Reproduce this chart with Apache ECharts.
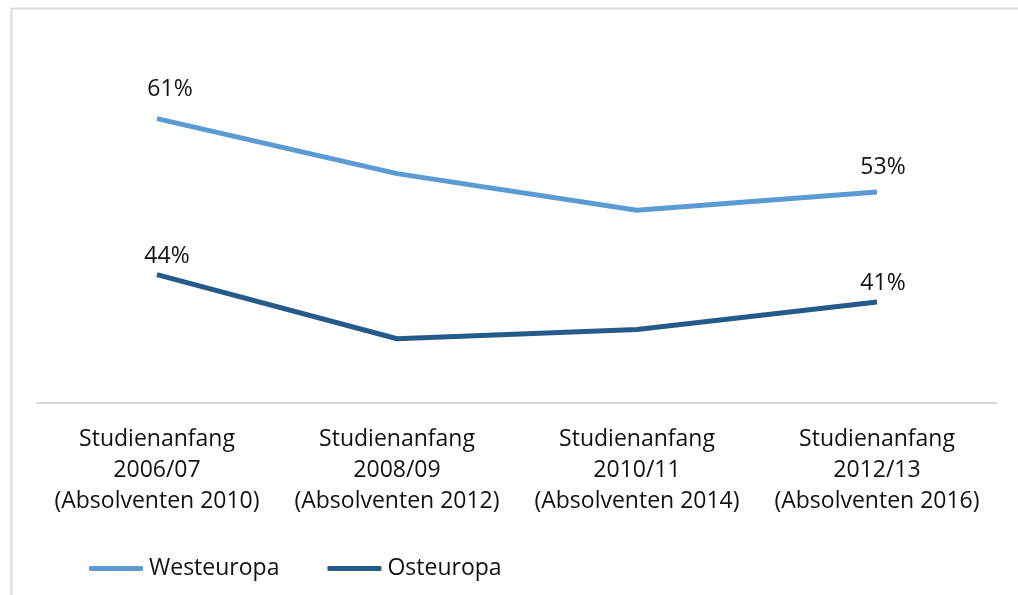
<!DOCTYPE html>
<html>
<head>
<meta charset="utf-8">
<script src="https://cdn.jsdelivr.net/npm/echarts@6/dist/echarts.min.js"></script>
<style>html,body{margin:0;padding:0;background:#fff}#c{width:1018px;height:595px}</style>
</head>
<body>
<div id="c"></div>
<script>
const categories = [
  'Studienanfang\n2006/07\n(Absolventen 2010)',
  'Studienanfang\n2008/09\n(Absolventen 2012)',
  'Studienanfang\n2010/11\n(Absolventen 2014)',
  'Studienanfang\n2012/13\n(Absolventen 2016)'
];
const westeuropa = [61, 55, 51, 53];
const osteuropa = [44, 37, 38, 41];
const labelled = [true, false, false, true];

const FONT = '"Open Sans", sans-serif';
function mk(vals, offs) {
  return vals.map((v, i) => ({
    value: v,
    label: { show: labelled[i], offset: offs[i] }
  }));
}
const chart = echarts.init(document.getElementById('c'));
chart.setOption({
  animation: false,
  graphic: [{
    type: 'rect', left: 9, top: 6,
    shape: { width: 1030, height: 620 },
    style: { fill: 'none', stroke: '#d9d9d9', lineWidth: 2 }
  }],
  grid: { left: 37, right: 21, top: 36, bottom: 192 },
  legend: {
    left: 89, top: 557, padding: 0,
    icon: 'roundRect', itemWidth: 54, itemHeight: 5, itemGap: 48,
    textStyle: { fontFamily: FONT, fontSize: 23, color: '#111', padding: [0, 0, 0, 1] },
    data: ['Westeuropa', 'Osteuropa']
  },
  xAxis: {
    type: 'category', data: categories, boundaryGap: true,
    axisLine: { lineStyle: { color: '#d9d9d9', width: 2 } },
    axisTick: { show: false },
    axisLabel: { margin: 21, fontFamily: FONT, fontSize: 23, lineHeight: 31, color: '#111', interval: 0 }
  },
  yAxis: { type: 'value', min: 30, max: 70, show: false, splitLine: { show: false } },
  series: [
    {
      name: 'Westeuropa', type: 'line', showSymbol: true, symbol: 'circle', symbolSize: 0,
      lineStyle: { width: 5, color: '#5b9bd5' }, itemStyle: { color: '#5b9bd5' },
      label: { position: 'top', distance: 5, formatter: '{c}%', fontFamily: FONT, fontSize: 23, color: '#111' },
      data: mk(westeuropa, [[13, -13], [0, 0], [0, 0], [6, -8]])
    },
    {
      name: 'Osteuropa', type: 'line', showSymbol: true, symbol: 'circle', symbolSize: 0,
      lineStyle: { width: 5, color: '#255b8b' }, itemStyle: { color: '#255b8b' },
      label: { position: 'top', distance: 5, formatter: '{c}%', fontFamily: FONT, fontSize: 23, color: '#111' },
      data: mk(osteuropa, [[10, -2], [0, 0], [0, 0], [6, -2]])
    }
  ]
});
</script>
</body>
</html>
